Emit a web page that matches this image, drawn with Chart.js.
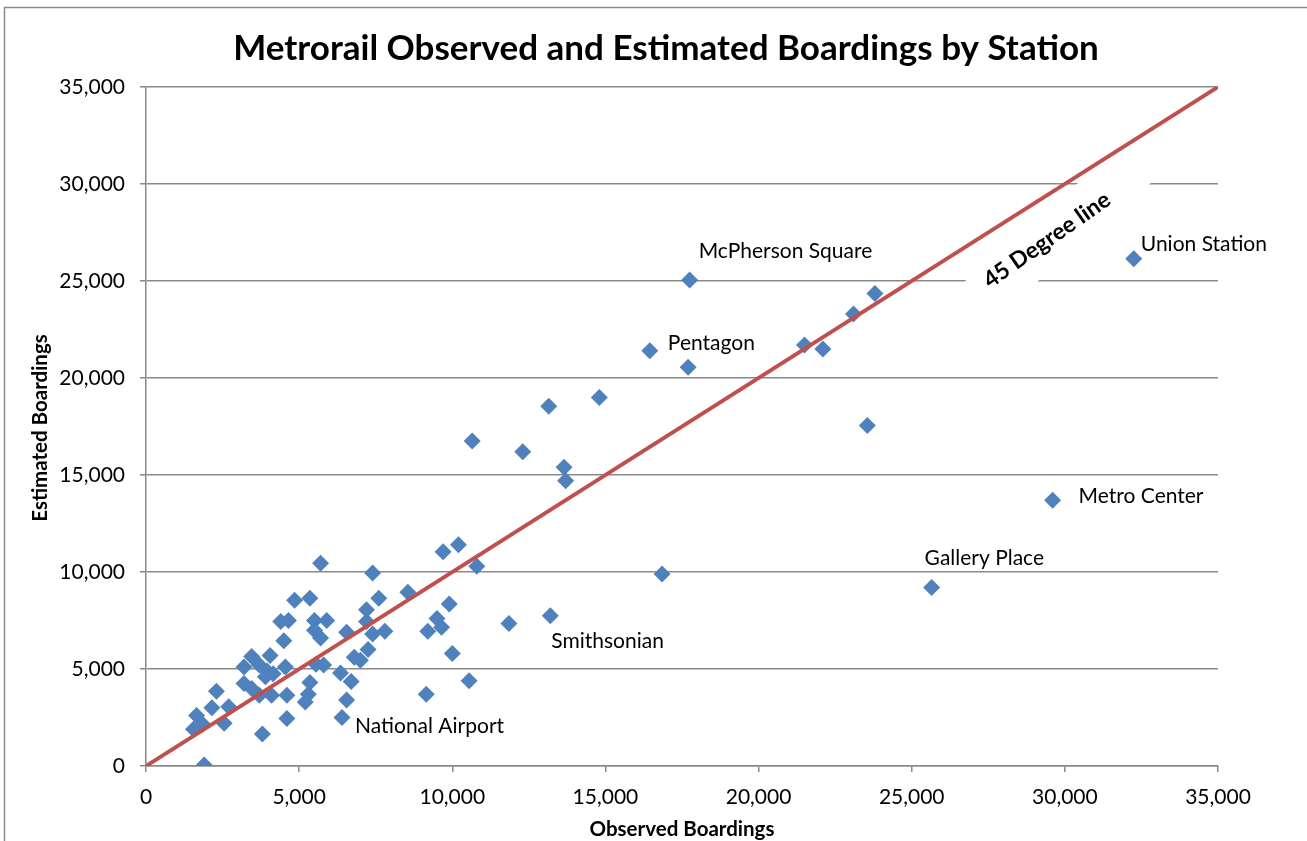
<!DOCTYPE html>
<html>
<head>
<meta charset="utf-8">
<script src="https://cdn.jsdelivr.net/npm/chart.js@4.4.1/dist/chart.umd.min.js"></script>
<style>
  html, body { margin: 0; padding: 0; background: #fff; }
  #wrap { width: 1307px; height: 841px; position: relative; }
</style>
</head>
<body>
<div id="wrap"><canvas id="chart" width="1307" height="841"></canvas></div>
<script>
// observed vs estimated boardings, one entry per station
const observed = [32250, 17750, 23800, 23100, 21500, 22100, 16450, 17700, 23550, 29600,
  25650, 16850, 14800, 13150, 10650, 12300, 13650, 13700, 10200, 9700,
  10800, 5700, 13200, 11850, 10550, 9150, 7400, 7600, 8550, 5900,
  7200, 7200, 5700, 6550, 7400, 7800, 9900, 9500, 9200, 9650,
  10000, 7250, 6800, 7000, 5800, 6350, 6700, 6550, 6400, 4850,
  5350, 4400, 4650, 5500, 5500, 4500, 3450, 4050, 3200, 3700,
  3950, 4150, 4550, 3900, 5550, 3200, 3450, 3700, 4100, 4600,
  5350, 5300, 5200, 4600, 3800, 1900, 1550, 1650, 1850, 2150,
  2300, 2700, 2550];
const estimated = [26150, 25050, 24350, 23300, 21700, 21500, 21400, 20550, 17550, 13700,
  9200, 9900, 19000, 18550, 16750, 16200, 15400, 14700, 11400, 11050,
  10300, 10450, 7750, 7350, 4400, 3700, 9950, 8650, 8950, 7500,
  8050, 7450, 6600, 6900, 6800, 6950, 8350, 7600, 6950, 7150,
  5800, 6000, 5600, 5450, 5200, 4800, 4350, 3400, 2500, 8550,
  8650, 7450, 7500, 7500, 7000, 6450, 5650, 5700, 5100, 5200,
  4900, 4750, 5100, 4600, 5250, 4250, 4000, 3650, 3650, 3650,
  4300, 3700, 3300, 2450, 1650, 50, 1900, 2600, 2150, 3000,
  3850, 3050, 2200];

// named stations (index into the arrays above)
const stationNames = ["Union Station", "McPherson Square", "Pentagon", "Metro Center",
  "Gallery Place", "Smithsonian", "National Airport"];
const stationIndex = [0, 1, 6, 9, 10, 22, 48];

// 45 degree reference line
const lineX = [0, 35000];
const lineY = [0, 35000];

const axisMin = 0;
const axisMax = 35000;
const tickStep = 5000;

const titleText = "Metrorail Observed and Estimated Boardings by Station";
const xTitle = "Observed Boardings";
const yTitle = "Estimated Boardings";
const lineLabel = "45 Degree line";

const FONT = "Lato, 'Open Sans', sans-serif";
const gridGray = "#898989";

// label placement relative to its point, in pixels
const labelOffsets = [[7, -14], [9, -29], [18, -8], [26, -4], [-7, -29], [1, 26], [13, 9]];

const fmt = v => v.toLocaleString("en-US");

const decor = {
  id: "decor",
  beforeDraw(chart) {
    const c = chart.ctx;
    c.save();
    c.fillStyle = "#fff";
    c.fillRect(0, 0, chart.width, chart.height);
    // outer chart border (cut off at right and bottom)
    c.strokeStyle = "#8c8c8c";
    c.lineWidth = 1.5;
    c.beginPath();
    c.moveTo(4.5, chart.height + 2);
    c.lineTo(4.5, 7.5);
    c.lineTo(chart.width + 2, 7.5);
    c.stroke();
    c.fillStyle = "#000";
    c.font = "bold 35px " + FONT;
    c.textAlign = "center";
    c.textBaseline = "middle";
    c.fillText(titleText, 666, 49);
    c.restore();
  },
  beforeDatasetsDraw(chart) {
    // white box behind the rotated label, breaks the gridlines
    const c = chart.ctx;
    c.save();
    c.translate(1057, 233);
    c.rotate(-41 * Math.PI / 180);
    c.fillStyle = "#fff";
    c.fillRect(-125, -24, 250, 48);
    c.restore();
  },
  afterDatasetsDraw(chart) {
    const c = chart.ctx;
    const xs = chart.scales.x, ys = chart.scales.y;
    c.save();
    c.fillStyle = "#000";
    c.font = "21px " + FONT;
    c.textAlign = "left";
    c.textBaseline = "middle";
    stationNames.forEach((name, i) => {
      const k = stationIndex[i];
      const px = xs.getPixelForValue(observed[k]);
      const py = ys.getPixelForValue(estimated[k]);
      c.fillText(name, px + labelOffsets[i][0], py + labelOffsets[i][1]);
    });
    c.translate(1047, 240);
    c.rotate(-35 * Math.PI / 180);
    c.font = "bold 23px " + FONT;
    c.textAlign = "center";
    c.fillText(lineLabel, 0, 0);
    c.restore();
  },
  afterDraw(chart) {
    const c = chart.ctx;
    c.save();
    c.fillStyle = "#000";
    c.font = "bold 20.5px " + FONT;
    c.textAlign = "center";
    c.textBaseline = "middle";
    c.fillText(xTitle, 682, 829);
    c.translate(40, 428);
    c.rotate(-Math.PI / 2);
    c.fillText(yTitle, 0, 0);
    c.restore();
  }
};

const ctx = document.getElementById("chart").getContext("2d");
new Chart(ctx, {
  type: "scatter",
  data: {
    datasets: [
      {
        label: "45 Degree line",
        data: lineX.map((x, i) => ({ x: x, y: lineY[i] })),
        showLine: true,
        borderColor: "#C0504D",
        borderWidth: 4,
        pointRadius: 0,
        order: 0
      },
      {
        label: "Stations",
        data: observed.map((x, i) => ({ x: x, y: estimated[i] })),
        backgroundColor: "#4F81BD",
        borderColor: "#4F81BD",
        borderWidth: 0,
        pointStyle: "rectRot",
        pointRadius: 8.5,
        order: 1
      }
    ]
  },
  options: {
    responsive: false,
    animation: false,
    events: [],
    layout: { padding: { top: 87, right: 89, left: 0, bottom: 0 } },
    plugins: { legend: { display: false }, tooltip: { enabled: false } },
    scales: {
      x: {
        type: "linear",
        min: axisMin,
        max: axisMax,
        ticks: { stepSize: tickStep, callback: fmt, color: "#000", font: { family: FONT, size: 21 }, padding: 13, maxRotation: 0 },
        grid: { drawOnChartArea: false, drawTicks: true, tickLength: 6, color: gridGray, lineWidth: 1.5 },
        border: { color: gridGray, width: 1.5 },
        afterFit(s) { s.height = 75; }
      },
      y: {
        type: "linear",
        min: axisMin,
        max: axisMax,
        ticks: { stepSize: tickStep, callback: fmt, color: "#000", font: { family: FONT, size: 21 }, padding: 15 },
        grid: { tickLength: 6, color: gridGray, lineWidth: 1.5 },
        border: { color: gridGray, width: 1.5 },
        afterFit(s) { s.width = 146; }
      }
    }
  },
  plugins: [decor]
});
</script>
</body>
</html>
